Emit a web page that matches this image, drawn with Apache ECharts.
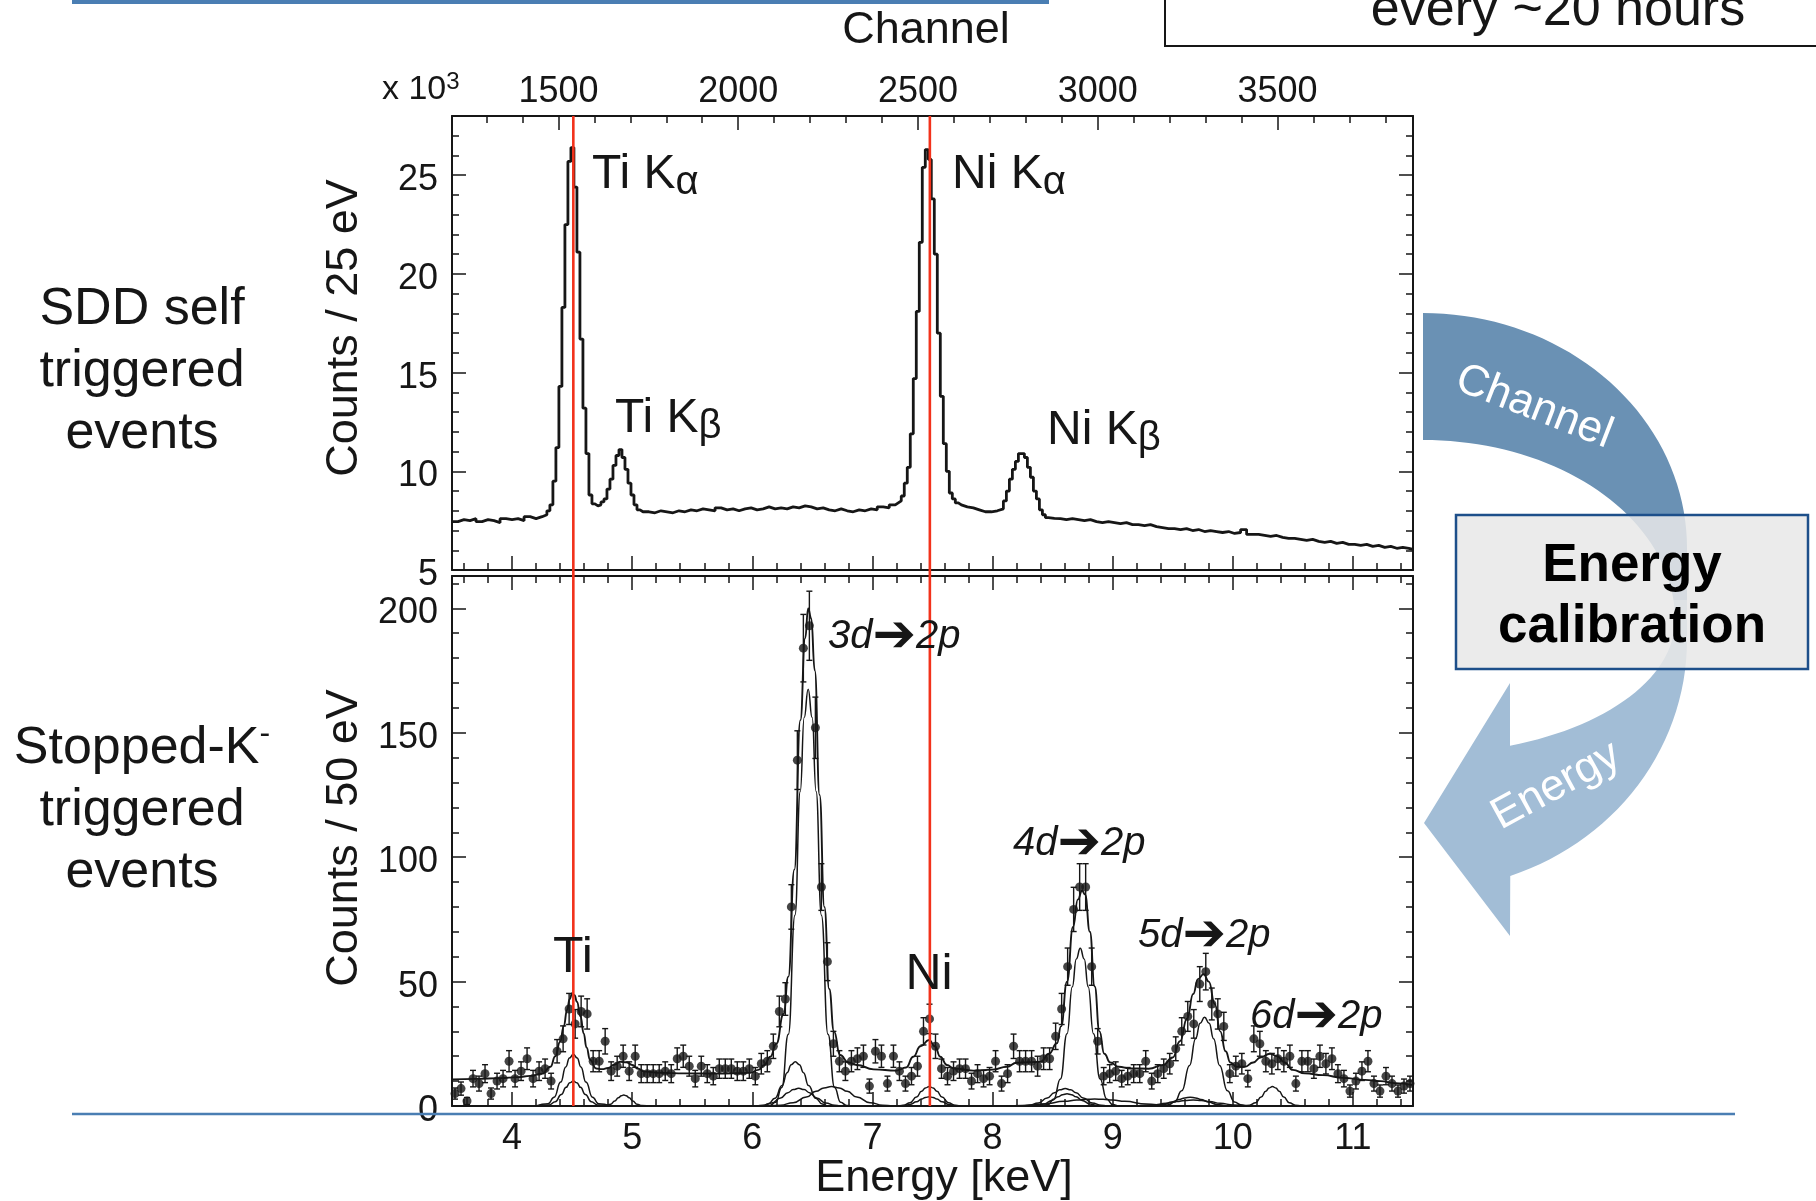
<!DOCTYPE html>
<html>
<head>
<meta charset="utf-8">
<title>SDD energy calibration</title>
<script src="https://cdn.jsdelivr.net/npm/echarts@6/dist/echarts.min.js"></script>
<style>
  html, body { margin: 0; padding: 0; background: #fff; }
  #chart { width: 1816px; height: 1201px; }
</style>
</head>
<body>
<div id="chart"></div>
<script>
// axis ranges (energy in keV, channel of the ADC)
const energyMin = 3.5
const energyMax = 11.5
const channelMin = 1204
const channelMax = 3877

// tick labels
const energyLabels = [4, 5, 6, 7, 8, 9, 10, 11]
const channelLabels = [1500, 2000, 2500, 3000, 3500]
const topYLabels = [5, 10, 15, 20, 25]
const bottomYLabels = [0, 50, 100, 150, 200]

// Ti Ka and Ni Ka reference lines (keV)
const refLines = [4.51, 7.478]

// SDD self triggered spectrum: [bin low edge keV, counts x10^3 / 25 eV]
const topBins = [
  [3.50, 7.45], [3.55, 7.55], [3.60, 7.5], [3.65, 7.6], [3.70, 7.45], [3.75, 7.55], [3.80, 7.5], [3.85, 7.4],
  [3.90, 7.6], [3.95, 7.55], [4.00, 7.6], [4.05, 7.5], [4.10, 7.7], [4.15, 7.6], [4.20, 7.7], [4.25, 7.8],
  // Ti Ka
  [4.29, 8.0], [4.315, 8.3], [4.34, 9.5], [4.365, 11.2], [4.39, 14.3], [4.415, 18.3], [4.44, 22.5], [4.465, 25.7],
  [4.49, 26.4], [4.515, 24.4], [4.54, 21.1], [4.565, 16.7], [4.59, 13.2], [4.615, 10.9], [4.64, 8.8], [4.665, 8.35],
  [4.69, 8.25], [4.715, 8.3],
  // Ti Kb
  [4.74, 8.45], [4.765, 8.6], [4.79, 9.1], [4.815, 9.6], [4.84, 10.3], [4.865, 10.8], [4.89, 11.1], [4.915, 10.7],
  [4.94, 10.1], [4.965, 9.4], [4.99, 8.8], [5.015, 8.3], [5.04, 8.05], [5.065, 7.95],
  // flat part
  [5.09, 7.95], [5.14, 7.9], [5.19, 8.0], [5.24, 7.95], [5.29, 7.9], [5.34, 8.0], [5.39, 7.95], [5.44, 8.05],
  [5.49, 8.0], [5.54, 8.1], [5.59, 8.05], [5.64, 8.0], [5.69, 8.15], [5.74, 8.05], [5.79, 8.1], [5.84, 8.0],
  [5.89, 8.1], [5.94, 8.15], [5.99, 8.05], [6.04, 8.1], [6.09, 8.2], [6.14, 8.1], [6.19, 8.15], [6.24, 8.1],
  [6.29, 8.2], [6.34, 8.15], [6.39, 8.25], [6.44, 8.2], [6.49, 8.1], [6.54, 8.15], [6.59, 8.05], [6.64, 8.0],
  [6.69, 8.1], [6.74, 8.0], [6.79, 7.95], [6.84, 8.05], [6.89, 8.0], [6.94, 8.1], [6.99, 8.05], [7.04, 8.2],
  [7.09, 8.15], [7.14, 8.3],
  // Ni Ka
  [7.19, 8.4], [7.215, 8.5], [7.24, 8.75], [7.265, 9.4], [7.29, 10.2], [7.315, 11.9], [7.34, 14.7], [7.365, 18.1],
  [7.39, 21.6], [7.415, 25.4], [7.44, 26.3], [7.465, 25.8], [7.49, 23.8], [7.515, 21.0], [7.54, 17.0], [7.565, 13.8],
  [7.59, 11.4], [7.615, 10.0], [7.64, 8.9], [7.665, 8.6], [7.69, 8.4], [7.715, 8.3],
  [7.74, 8.2], [7.79, 8.15], [7.84, 8.05], [7.89, 7.95], [7.94, 7.95], [7.99, 8.0], [8.04, 8.1],
  // Ni Kb
  [8.09, 8.5], [8.115, 9.0], [8.14, 9.6], [8.165, 10.1], [8.19, 10.5], [8.215, 10.9], [8.24, 10.9], [8.265, 10.7],
  [8.29, 10.2], [8.315, 9.7], [8.34, 9.0], [8.365, 8.6], [8.39, 8.05], [8.415, 7.8], [8.44, 7.65],
  // tail
  [8.465, 7.62], [8.515, 7.6], [8.565, 7.55], [8.615, 7.6], [8.665, 7.55], [8.715, 7.5], [8.765, 7.55], [8.815, 7.45],
  [8.865, 7.4], [8.915, 7.45], [8.965, 7.4], [9.015, 7.35], [9.065, 7.4], [9.115, 7.3], [9.165, 7.3], [9.215, 7.25],
  [9.265, 7.3], [9.315, 7.2], [9.365, 7.15], [9.415, 7.1], [9.465, 7.1], [9.515, 7.05], [9.565, 7.1], [9.615, 7.0],
  [9.665, 7.05], [9.715, 6.95], [9.765, 7.0], [9.815, 6.95], [9.865, 6.9], [9.915, 6.95], [9.965, 6.85], [10.015, 6.9],
  [10.065, 7.05], [10.115, 6.8], [10.165, 6.8], [10.215, 6.75], [10.265, 6.7], [10.315, 6.75], [10.365, 6.65], [10.415, 6.6],
  [10.465, 6.6], [10.515, 6.55], [10.565, 6.5], [10.615, 6.55], [10.665, 6.45], [10.715, 6.4], [10.765, 6.45], [10.815, 6.35],
  [10.865, 6.4], [10.915, 6.3], [10.965, 6.3], [11.015, 6.25], [11.065, 6.3], [11.115, 6.2], [11.165, 6.25], [11.215, 6.15],
  [11.265, 6.2], [11.315, 6.1], [11.365, 6.15], [11.415, 6.1], [11.465, 6.05]
]

// Stopped-K- triggered spectrum, 50 eV bins starting at 3.5 keV
const binStart = 3.5
const binWidth = 0.05
const bottomCounts = [
  5, 7, 2, 11, 9, 13, 5, 10, 11, 18,
  11, 14, 19, 11, 14, 15, 10, 22, 27, 39,
  33, 38, 37, 18, 18, 26, 14, 16, 20, 14,
  20, 13, 13, 13, 13, 14, 13, 19, 20, 16,
  11, 16, 13, 12, 15, 15, 15, 14, 14, 15,
  12, 17, 18, 24, 38, 43, 80, 139, 184, 193,
  152, 88, 58, 25, 18, 14, 18, 19, 20, 8,
  22, 20, 9, 20, 14, 9, 12, 16, 30, 35,
  24, 15, 12, 14, 15, 15, 10, 13, 11, 12,
  18, 9, 13, 24, 18, 18, 18, 16, 19, 19,
  28, 39, 56, 79, 88, 88, 56, 26, 12, 13,
  14, 11, 12, 13, 13, 18, 10, 13, 15, 17,
  23, 30, 36, 33, 49, 54, 41, 37, 32, 13,
  16, 17, 11, 27, 25, 18, 17, 19, 18, 20,
  9, 18, 18, 15, 20, 17, 19, 13, 11, 6,
  10, 14, 18, 9, 6, 12, 9, 6, 8, 9
]

// total fit [keV, counts]
const fitTotal = [
  [3.5, 10.7], [3.7, 10.9], [3.9, 11.2], [4.05, 11.6], [4.15, 12.1], [4.25, 13.0], [4.32, 15.8], [4.36, 20],
  [4.40, 25.8], [4.43, 32], [4.458, 38.6], [4.48, 43], [4.50, 45.3], [4.52, 44.5], [4.54, 41.9], [4.57, 36],
  [4.596, 29.2], [4.62, 23.5], [4.65, 18.5], [4.70, 15.1], [4.75, 14.8], [4.80, 15.3], [4.85, 16.6], [4.90, 17.8],
  [4.95, 17.6], [5.0, 16.5], [5.05, 15], [5.1, 13.8], [5.25, 13.3], [5.43, 13.1], [5.7, 13.0], [5.98, 13.3],
  [6.05, 14.5], [6.1, 16.5], [6.15, 19.8], [6.2, 25], [6.26, 37], [6.3, 52], [6.35, 95], [6.4, 155],
  [6.44, 188], [6.465, 200], [6.49, 196], [6.52, 175], [6.56, 125], [6.6, 80], [6.64, 47], [6.68, 30],
  [6.73, 20.5], [6.8, 17.5], [6.87, 16.5], [7.01, 14.7], [7.2, 14.2], [7.28, 15.5], [7.34, 19.8], [7.40, 24],
  [7.47, 26.5], [7.52, 24], [7.565, 19.8], [7.62, 16.5], [7.676, 15.1], [7.84, 14.2], [8.0, 14.6], [8.12, 15.8],
  [8.2, 17.4], [8.3, 17.6], [8.4, 17.8], [8.47, 21], [8.536, 25.2], [8.57, 32], [8.62, 50], [8.67, 72],
  [8.71, 83], [8.745, 86.5], [8.77, 85], [8.81, 70], [8.85, 48], [8.89, 30], [8.93, 21], [8.98, 17.5],
  [9.05, 15.8], [9.15, 15.1], [9.3, 15], [9.42, 16.5], [9.5, 19.5], [9.56, 26], [9.62, 35.2], [9.67, 45],
  [9.71, 51], [9.757, 53], [9.8, 50], [9.85, 41], [9.895, 30], [9.94, 22], [9.98, 17.5], [10.03, 15.8],
  [10.1, 15.8], [10.17, 17.5], [10.23, 19.5], [10.31, 21], [10.37, 20], [10.43, 17.5], [10.5, 14.5], [10.6, 13.1],
  [10.75, 12.4], [10.92, 11.3], [11.1, 10.5], [11.23, 10.0], [11.35, 9.2], [11.5, 8.4]
]

// fit components [keV, counts]
const tiKa1 = [[4.2, 0], [4.30, 0.9], [4.35, 3.5], [4.405, 9.6], [4.447, 15.7], [4.478, 19.3], [4.51, 20.8], [4.542, 19.3], [4.573, 15.7], [4.615, 9.6], [4.67, 3.5], [4.72, 0.9], [4.82, 0]]
const tiKa2 = [[4.2, 0], [4.31, 0.44], [4.36, 1.7], [4.41, 4.6], [4.45, 7.5], [4.48, 9.3], [4.51, 10], [4.54, 9.3], [4.57, 7.5], [4.61, 4.6], [4.66, 1.7], [4.71, 0.44], [4.82, 0]]
const tiKb = [[4.7, 0], [4.78, 0.2], [4.82, 0.75], [4.855, 2.0], [4.885, 3.3], [4.91, 4.1], [4.93, 4.4], [4.95, 4.1], [4.975, 3.3], [5.005, 2.0], [5.04, 0.75], [5.08, 0.2], [5.16, 0]]
const line3d = [[6.08, 0], [6.145, 0.2], [6.195, 1.5], [6.245, 7.4], [6.3, 28.8], [6.355, 76.7], [6.399, 126.4], [6.432, 156.1], [6.465, 167.5], [6.498, 156.1], [6.531, 126.4], [6.575, 76.7], [6.63, 28.8], [6.685, 7.4], [6.735, 1.5], [6.785, 0.2], [6.85, 0]]
const side3dA = [[6.1, 0], [6.133, 0.78], [6.188, 3.1], [6.248, 8.2], [6.29, 13.4], [6.324, 16.6], [6.358, 17.8], [6.392, 16.6], [6.426, 13.4], [6.468, 8.2], [6.528, 3.1], [6.583, 0.78], [6.62, 0]]
const side3dB = [[6.04, 0], [6.086, 0.31], [6.161, 1.22], [6.236, 3.25], [6.296, 5.36], [6.341, 6.6], [6.386, 7.1], [6.431, 6.6], [6.476, 5.36], [6.536, 3.25], [6.611, 1.22], [6.686, 0.31], [6.73, 0]]
const side3dC = [[6.15, 0], [6.235, 0.34], [6.34, 1.34], [6.45, 3.6], [6.53, 5.9], [6.596, 7.27], [6.66, 7.8], [6.724, 7.27], [6.79, 5.9], [6.87, 3.6], [6.98, 1.34], [7.085, 0.34], [7.17, 0]]
const niKa1 = [[7.22, 0], [7.263, 0.34], [7.313, 1.34], [7.367, 3.57], [7.409, 5.9], [7.441, 7.27], [7.473, 7.8], [7.505, 7.27], [7.537, 5.9], [7.579, 3.57], [7.633, 1.34], [7.683, 0.34], [7.73, 0]]
const niKa2 = [[7.22, 0], [7.263, 0.16], [7.313, 0.64], [7.367, 1.7], [7.409, 2.8], [7.441, 3.45], [7.473, 3.7], [7.505, 3.45], [7.537, 2.8], [7.579, 1.7], [7.633, 0.64], [7.683, 0.16], [7.73, 0]]
const line4d = [[8.36, 0], [8.41, 0.1], [8.46, 0.6], [8.51, 2.8], [8.565, 10.9], [8.62, 29.0], [8.664, 47.9], [8.697, 59.1], [8.73, 63.4], [8.763, 59.1], [8.796, 47.9], [8.84, 29.0], [8.895, 10.9], [8.95, 2.8], [9.0, 0.6], [9.05, 0.1], [9.1, 0]]
const side4dA = [[8.26, 0], [8.305, 0.3], [8.38, 1.2], [8.455, 3.2], [8.515, 5.3], [8.56, 6.5], [8.605, 7.0], [8.65, 6.5], [8.695, 5.3], [8.755, 3.2], [8.83, 1.2], [8.905, 0.3], [8.95, 0]]
const side4dB = [[8.3, 0], [8.37, 0.2], [8.43, 0.85], [8.495, 2.25], [8.545, 3.7], [8.583, 4.57], [8.62, 4.9], [8.657, 4.57], [8.695, 3.7], [8.745, 2.25], [8.81, 0.85], [8.87, 0.2], [8.93, 0]]
const side4dC = [[8.1, 0], [8.25, 0.2], [8.42, 0.78], [8.6, 1.88], [8.7, 2.4], [8.78, 2.7], [8.85, 2.8], [8.92, 2.7], [9.0, 2.4], [9.1, 1.88], [9.28, 0.78], [9.45, 0.2], [9.6, 0]]
const line5d = [[9.37, 0], [9.42, 0.1], [9.465, 0.5], [9.515, 1.57], [9.575, 6.1], [9.64, 16.3], [9.69, 27], [9.728, 33.3], [9.765, 35.7], [9.803, 33.3], [9.84, 27], [9.89, 16.3], [9.955, 6.1], [10.015, 1.57], [10.065, 0.5], [10.11, 0.1], [10.16, 0]]
const side5dA = [[9.3, 0], [9.345, 0.15], [9.42, 0.6], [9.495, 1.6], [9.555, 2.65], [9.6, 3.25], [9.645, 3.5], [9.69, 3.25], [9.735, 2.65], [9.795, 1.6], [9.87, 0.6], [9.945, 0.15], [9.99, 0]]
const side5dB = [[9.15, 0], [9.22, 0.1], [9.335, 0.41], [9.445, 1.1], [9.535, 1.8], [9.6, 2.23], [9.67, 2.4], [9.74, 2.23], [9.805, 1.8], [9.895, 1.1], [10.005, 0.41], [10.12, 0.1], [10.19, 0]]
const line6d = [[10.09, 0], [10.14, 0.34], [10.19, 1.34], [10.236, 3.57], [10.274, 5.9], [10.302, 7.27], [10.33, 7.8], [10.358, 7.27], [10.386, 5.9], [10.424, 3.57], [10.47, 1.34], [10.52, 0.34], [10.57, 0]]

const components = [tiKa1, tiKa2, tiKb, line3d, side3dA, side3dB, side3dC, niKa1, niKa2,
  line4d, side4dA, side4dB, side4dC, line5d, side5dA, side5dB, line6d]

// ---- layout ----
const font = 'Liberation Sans, Arial, Helvetica, sans-serif'
const ink = '#161616'
const plotLeft = 452
const plotWidth = 961
const topGrid = { top: 116, height: 454 }
const bottomGrid = { top: 576, height: 530 }

// minor tick positions
const energyMinor = []
for (let k = 18; k <= 57; k++) { if (k % 5 !== 0) energyMinor.push(k / 5) }
const channelMinor = []
for (let c = 1300; c <= 3800; c += 100) { if (c % 500 !== 0) channelMinor.push(c) }
const topYMinor = []
for (let v = 6; v <= 28; v++) { if (v % 5 !== 0) topYMinor.push(v) }
const bottomYMinor = []
for (let v = 10; v <= 210; v += 10) { if (v % 50 !== 0) bottomYMinor.push(v) }

function axis (gridIndex, position, min, max, ticks, tickLen, labels, margin, showLine, shiftDown) {
  const lbl = labels
    ? {
        show: true,
        customValues: labels,
        margin,
        hideOverlap: false,
        formatter: v => String(v),
        fontFamily: font,
        fontSize: 36,
        color: ink
      }
    : { show: false }
  if (labels && shiftDown) {
    // a thin line box anchored at its top moves the digits slightly below the tick
    lbl.verticalAlign = 'top'
    lbl.lineHeight = shiftDown * 2
  }
  return {
    type: 'value',
    gridIndex,
    position,
    min,
    max,
    axisLine: { show: showLine, onZero: false, lineStyle: { color: ink, width: 2 } },
    axisTick: { show: true, inside: true, length: tickLen, customValues: ticks, lineStyle: { color: ink, width: 1.5 } },
    axisLabel: lbl,
    splitLine: { show: false },
    minorTick: { show: false }
  }
}

const xAxes = [
  axis(0, 'bottom', energyMin, energyMax, energyLabels, 14, null, 0, true), // 0
  axis(0, 'bottom', energyMin, energyMax, energyMinor, 7, null, 0, false), // 1
  axis(0, 'top', channelMin, channelMax, channelLabels, 14, channelLabels, 6, true), // 2
  axis(0, 'top', channelMin, channelMax, channelMinor, 7, null, 0, false), // 3
  axis(1, 'bottom', energyMin, energyMax, energyLabels, 14, energyLabels, 15, true), // 4
  axis(1, 'bottom', energyMin, energyMax, energyMinor, 7, null, 0, false), // 5
  axis(1, 'top', energyMin, energyMax, energyLabels, 14, null, 0, true), // 6
  axis(1, 'top', energyMin, energyMax, energyMinor, 7, null, 0, false), // 7
  { type: 'value', gridIndex: 2, min: energyMin, max: energyMax, show: false } // 8
]
const yAxes = [
  axis(0, 'left', 5, 28, topYLabels, 14, topYLabels, 14, true, 5), // 0
  axis(0, 'left', 5, 28, topYMinor, 7, null, 0, false), // 1
  axis(0, 'right', 5, 28, topYLabels, 14, null, 0, true), // 2
  axis(0, 'right', 5, 28, topYMinor, 7, null, 0, false), // 3
  axis(1, 'left', 0, 213, bottomYLabels, 14, bottomYLabels, 14, true, 5), // 4
  axis(1, 'left', 0, 213, bottomYMinor, 7, null, 0, false), // 5
  axis(1, 'right', 0, 213, bottomYLabels, 14, null, 0, true), // 6
  axis(1, 'right', 0, 213, bottomYMinor, 7, null, 0, false), // 7
  { type: 'value', gridIndex: 2, min: 0, max: 1, show: false } // 8
]

// data for series
const topData = topBins.concat([[energyMax, topBins[topBins.length - 1][1]]])
const points = bottomCounts.map((n, i) => [binStart + binWidth * (i + 0.5), n])
// poisson error bars
const errors = bottomCounts.map((n, i) => [binStart + binWidth * (i + 0.5), n - Math.sqrt(n), n + Math.sqrt(n)])

const componentSeries = components.map(c => ({
  type: 'line',
  xAxisIndex: 4,
  yAxisIndex: 4,
  data: c,
  smooth: 0.5,
  smoothMonotone: 'x',
  symbol: 'none',
  lineStyle: { color: ink, width: 1.5 },
  z: 3
}))

// ---- decorations (calibration arrow) ----
function arc (cx, cy, rx, ry, a0, a1, n) {
  const pts = []
  for (let i = 0; i <= n; i++) {
    const a = (a0 + (a1 - a0) * i / n) * Math.PI / 180
    pts.push([cx + rx * Math.cos(a), cy + ry * Math.sin(a)])
  }
  return pts
}
const darkBand = [].concat(
  arc(1423, 548, 264, 235, -90, 0, 40),
  [[1687, 600]],
  arc(1423, 620, 252, 180, -6.4, -90, 40)
)
const lightBand = [].concat(
  [[1687, 600], [1687, 640]],
  arc(1423, 640, 264, 250, 0, 70.7, 30),
  [[1510, 936], [1424, 823], [1510, 683]],
  arc(1423, 620, 252, 134, 69.8, 0, 30),
  arc(1423, 620, 252, 180, 0, -6.4, 4)
)

const arrowRich = {
  i: { fontFamily: font, fontStyle: 'italic', fontSize: 40, lineHeight: 48, fill: ink },
  r: { fontFamily: 'DejaVu Sans', fontSize: 52, lineHeight: 48, fill: ink }
}
const kRich = {
  a: { fontFamily: font, fontSize: 48, lineHeight: 56, fill: ink },
  g: { fontFamily: font, fontSize: 40, lineHeight: 50, verticalAlign: 'bottom', fill: ink }
}
function label (x, y, text, rich) {
  return { type: 'text', x, y, z: 20, style: { text, rich, align: 'left', verticalAlign: 'middle' } }
}
function plainText (x, y, text, size, extra) {
  return {
    type: 'text', x, y, z: 20,
    style: Object.assign({ text, fontFamily: font, fontSize: size, fill: ink, align: 'center', verticalAlign: 'middle' }, extra || {})
  }
}
function rotated (el, rotation, z) {
  el.rotation = rotation
  if (z) el.z = z
  return el
}

const graphics = [
  // slide fragments
  { type: 'rect', shape: { x: 72, y: 0, width: 977, height: 4 }, style: { fill: '#4a7eb3' } },
  { type: 'rect', shape: { x: 1165, y: -30, width: 700, height: 76 }, style: { fill: 'none', stroke: ink, lineWidth: 2 } },
  plainText(1558, 11, 'every ~20 hours', 52),
  { type: 'line', shape: { x1: 72, y1: 1114, x2: 1735, y2: 1114 }, style: { stroke: '#4a7eb3', lineWidth: 2.5 }, z: 1 },
  // row captions
  plainText(142, 372, 'SDD self\ntriggered\nevents', 52, { lineHeight: 62 }),
  {
    type: 'text', x: 142, y: 811, z: 20,
    style: {
      text: '{m|Stopped-K}{s|-}\n{m|triggered}\n{m|events}',
      align: 'center',
      verticalAlign: 'middle',
      rich: {
        m: { fontFamily: font, fontSize: 52, lineHeight: 62, fill: ink },
        s: { fontFamily: font, fontSize: 32, lineHeight: 32, verticalAlign: 'top', fill: ink }
      }
    }
  },
  // axis titles
  rotated(plainText(345, 328, 'Counts / 25 eV', 45), Math.PI / 2),
  rotated(plainText(345, 838, 'Counts / 50 eV', 45), Math.PI / 2),
  plainText(944, 1179, 'Energy [keV]', 45),
  plainText(926, 31, 'Channel', 45),
  {
    type: 'text', x: 382, y: 90, z: 20,
    style: {
      text: '{a|x 10}{s|3}',
      align: 'left',
      verticalAlign: 'middle',
      rich: {
        a: { fontFamily: font, fontSize: 34, lineHeight: 40, fill: ink },
        s: { fontFamily: font, fontSize: 24, lineHeight: 24, verticalAlign: 'top', fill: ink }
      }
    }
  },
  // peak labels
  label(592, 175, '{a|Ti K}{g|α}', kRich),
  label(952, 175, '{a|Ni K}{g|α}', kRich),
  label(615, 419, '{a|Ti K}{g|β}', kRich),
  label(1047, 431, '{a|Ni K}{g|β}', kRich),
  label(828, 637, '{i|3d}{r|➔}{i|2p}', arrowRich),
  label(1013, 844, '{i|4d}{r|➔}{i|2p}', arrowRich),
  label(1138, 936, '{i|5d}{r|➔}{i|2p}', arrowRich),
  label(1250, 1017, '{i|6d}{r|➔}{i|2p}', arrowRich),
  plainText(573, 958, 'Ti', 50),
  plainText(929, 975, 'Ni', 50),
  // calibration arrow and box
  { type: 'polygon', shape: { points: darkBand }, style: { fill: '#6a91b4' }, z: 5 },
  { type: 'polygon', shape: { points: lightBand }, style: { fill: '#a2bdd6' }, z: 5 },
  rotated(plainText(1534, 407, 'Channel', 44, { fill: '#ffffff' }), -0.37, 6),
  rotated(plainText(1556, 786, 'Energy', 44, { fill: '#ffffff' }), 0.5, 6),
  { type: 'rect', shape: { x: 1456, y: 515, width: 352, height: 154 }, style: { fill: 'rgba(232,232,232,0.86)', stroke: '#1d4f8a', lineWidth: 2.5 }, z: 8 },
  rotated(plainText(1632, 597, 'Energy\ncalibration', 53, { fontWeight: 'bold', lineHeight: 61, fill: '#000' }), 0, 9)
]

const options = {
  animation: false,
  backgroundColor: '#ffffff',
  grid: [
    { left: plotLeft, width: plotWidth, top: topGrid.top, height: topGrid.height, outerBoundsMode: 'none' },
    { left: plotLeft, width: plotWidth, top: bottomGrid.top, height: bottomGrid.height, outerBoundsMode: 'none' },
    { left: plotLeft, width: plotWidth, top: topGrid.top, height: bottomGrid.top + bottomGrid.height - topGrid.top, outerBoundsMode: 'none' }
  ],
  xAxis: xAxes,
  yAxis: yAxes,
  series: [
    {
      type: 'line',
      xAxisIndex: 0,
      yAxisIndex: 0,
      step: 'end',
      symbol: 'none',
      data: topData,
      lineStyle: { color: ink, width: 2.8 },
      z: 3
    },
    ...componentSeries,
    {
      type: 'line',
      xAxisIndex: 4,
      yAxisIndex: 4,
      data: fitTotal,
      smooth: 0.5,
      smoothMonotone: 'x',
      symbol: 'none',
      lineStyle: { color: ink, width: 1.9 },
      z: 4
    },
    {
      type: 'custom',
      xAxisIndex: 4,
      yAxisIndex: 4,
      data: errors,
      z: 5,
      renderItem: function (params, api) {
        const x = api.value(0)
        const lo = api.coord([x, api.value(1)])
        const hi = api.coord([x, api.value(2)])
        const c = 3
        const st = { stroke: ink, lineWidth: 1.4 }
        return {
          type: 'group',
          children: [
            { type: 'line', shape: { x1: lo[0], y1: lo[1], x2: hi[0], y2: hi[1] }, style: st },
            { type: 'line', shape: { x1: hi[0] - c, y1: hi[1], x2: hi[0] + c, y2: hi[1] }, style: st },
            { type: 'line', shape: { x1: lo[0] - c, y1: lo[1], x2: lo[0] + c, y2: lo[1] }, style: st }
          ]
        }
      }
    },
    {
      type: 'scatter',
      xAxisIndex: 4,
      yAxisIndex: 4,
      data: points,
      symbol: 'circle',
      symbolSize: 9,
      itemStyle: { color: ink },
      z: 6
    },
    {
      type: 'custom',
      xAxisIndex: 8,
      yAxisIndex: 8,
      data: refLines.map(e => [e]),
      z: 10,
      renderItem: function (params, api) {
        const x = api.value(0)
        const t = api.coord([x, 1])
        const b = api.coord([x, 0])
        return { type: 'line', shape: { x1: t[0], y1: t[1], x2: b[0], y2: b[1] }, style: { stroke: '#f2321b', lineWidth: 2.6 } }
      }
    }
  ],
  graphic: graphics
}

const chart = echarts.init(document.getElementById('chart'), null, { renderer: 'canvas' })
chart.setOption(options)
</script>
</body>
</html>
